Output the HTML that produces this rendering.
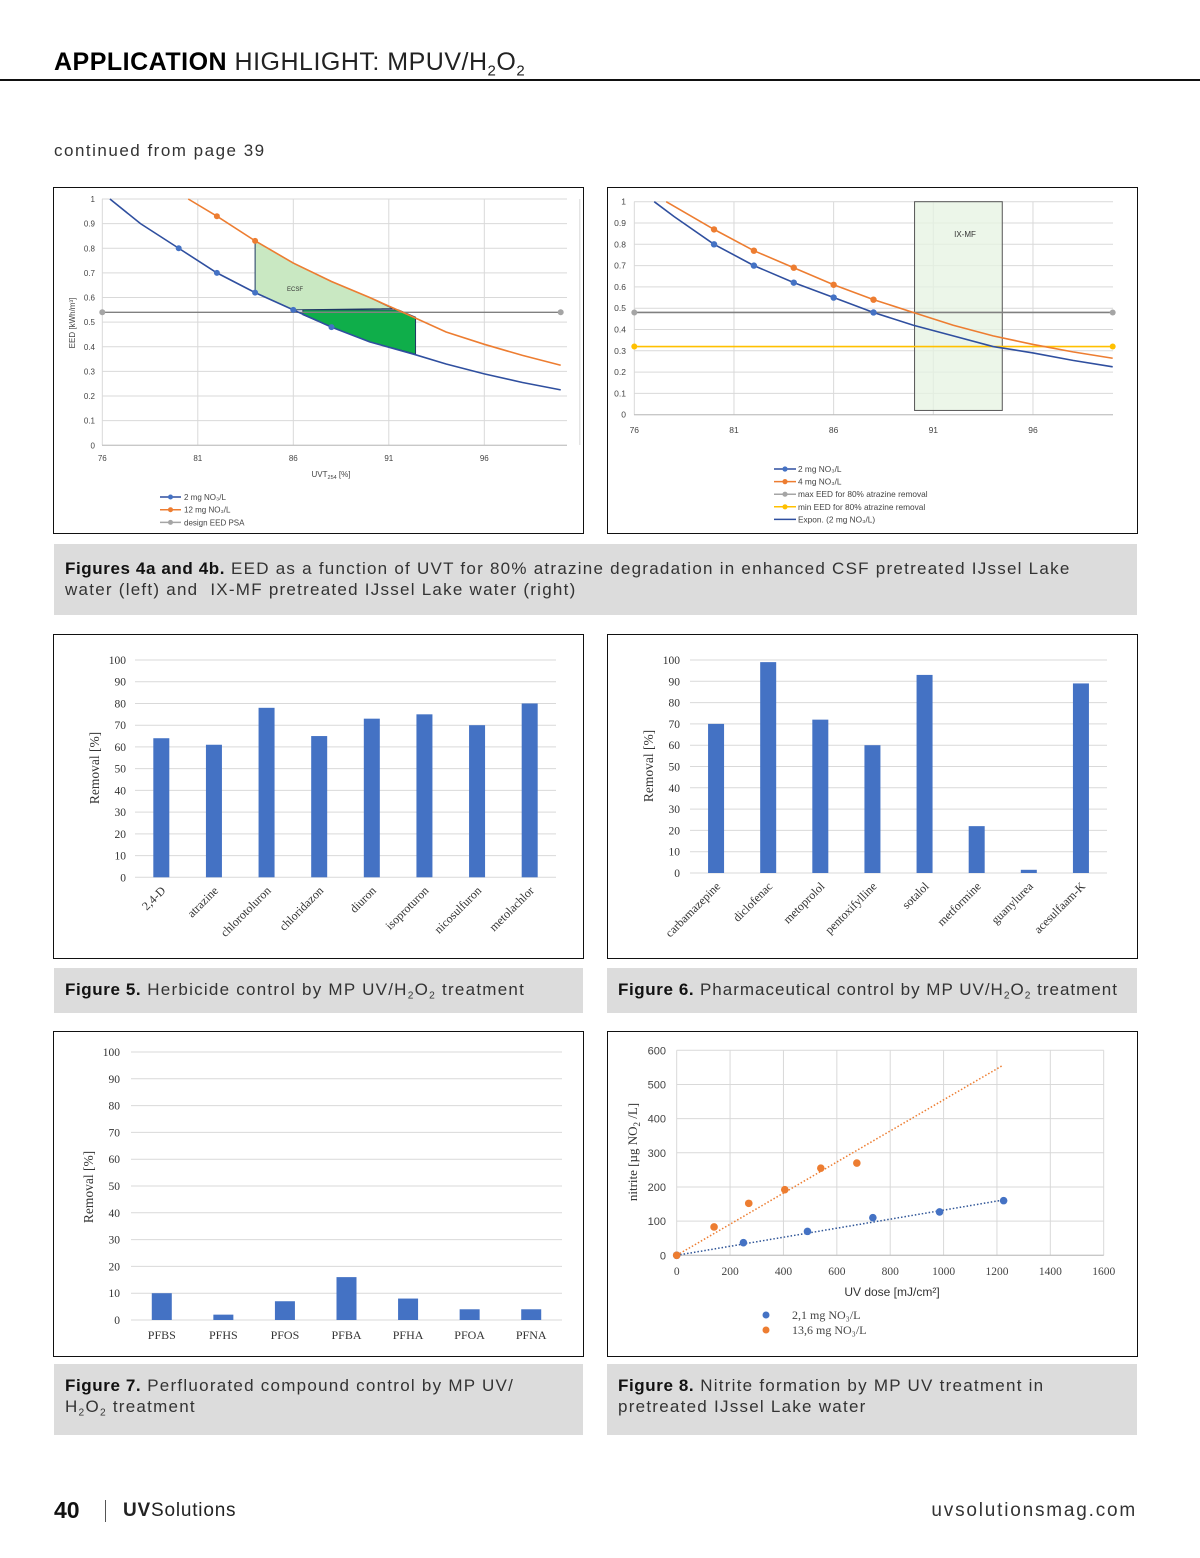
<!DOCTYPE html>
<html><head><meta charset="utf-8">
<style>
body{margin:0;background:#fff;}
#page{position:relative;width:1200px;height:1558px;overflow:hidden;background:#fff;font-family:"Liberation Sans",sans-serif;color:#222;}
.abs{position:absolute;}
.cap{position:absolute;background:#dcdcdc;font-size:17px;line-height:21px;color:#333;padding:0 11px;box-sizing:border-box;letter-spacing:1.25px;}
.cap b{color:#111;letter-spacing:0.6px;}
.box{position:absolute;border:1.5px solid #111;box-sizing:border-box;}
sub{font-size:0.6em;vertical-align:-0.35em;line-height:0;}
</style></head>
<body><div id="page">
<div class="abs" style="left:54px;top:48px;font-size:25px;letter-spacing:0.5px;white-space:nowrap;"><b style="font-weight:900;color:#000;">APPLICATION</b> <span style="font-weight:300;color:#222;">HIGHLIGHT: MPUV/H<sub>2</sub>O<sub>2</sub></span></div>
<div class="abs" style="left:0;top:79px;width:1200px;height:2px;background:#111;"></div>
<div class="abs" style="left:54px;top:141px;font-size:17px;color:#333;letter-spacing:1.5px;">continued from page 39</div>

<div class="box" style="left:53px;top:187px;width:531px;height:347px;"></div>
<div class="box" style="left:607px;top:187px;width:531px;height:347px;"></div>
<div class="box" style="left:53px;top:634px;width:531px;height:325px;border-width:1px;"></div>
<div class="box" style="left:607px;top:634px;width:531px;height:325px;border-width:1px;"></div>
<div class="box" style="left:53px;top:1031px;width:531px;height:326px;border-width:1px;"></div>
<div class="box" style="left:607px;top:1031px;width:531px;height:326px;"></div>

<div class="cap" style="left:54px;top:544px;width:1083px;height:71px;padding-top:14px;"><b>Figures 4a and 4b.</b> EED as a function of UVT for 80% atrazine degradation in enhanced CSF pretreated IJssel Lake<br>water (left) and&nbsp; IX-MF pretreated IJssel Lake water (right)</div>
<div class="cap" style="left:54px;top:968px;width:529px;height:45px;padding-top:11px;"><b>Figure 5.</b> Herbicide control by MP UV/H<sub>2</sub>O<sub>2</sub> treatment</div>
<div class="cap" style="left:607px;top:968px;width:530px;height:45px;padding-top:11px;letter-spacing:1px;"><b>Figure 6.</b> Pharmaceutical control by MP UV/H<sub>2</sub>O<sub>2</sub> treatment</div>
<div class="cap" style="left:54px;top:1364px;width:529px;height:71px;padding-top:11px;"><b>Figure 7.</b> Perfluorated compound control by MP UV/<br>H<sub>2</sub>O<sub>2</sub> treatment</div>
<div class="cap" style="left:607px;top:1364px;width:530px;height:71px;padding-top:11px;"><b>Figure 8.</b> Nitrite formation by MP UV treatment in<br>pretreated IJssel Lake water</div>

<div class="abs" style="left:54px;top:1497px;font-size:23px;font-weight:bold;color:#111;">40</div>
<div class="abs" style="left:105px;top:1500px;width:1px;height:22px;background:#555;"></div>
<div class="abs" style="left:123px;top:1500px;font-size:19px;color:#222;letter-spacing:0.8px;"><b>UV</b>Solutions</div>
<div class="abs" style="right:63px;top:1500px;font-size:19px;color:#333;letter-spacing:1.8px;">uvsolutionsmag.com</div>

<svg id="charts" width="1200" height="1558" style="position:absolute;left:0;top:0;"></svg>
</div>
<script>
// ---- Figure 4a data ----
const f4aBlueX=[76.4,78,80,82,84,86,88,90,92.3,94,96,98,100];
const f4aBlueY=[1.0,0.9,0.8,0.7,0.62,0.55,0.48,0.42,0.37,0.33,0.29,0.255,0.225];
const f4aBlueMarkX=[80,82,84,86,88];
const f4aBlueMarkY=[0.8,0.7,0.62,0.55,0.48];
const f4aOrX=[80.5,82,84,86,88,90,91.3,92.3,94,96,98,100];
const f4aOrY=[1.0,0.93,0.83,0.74,0.665,0.6,0.555,0.52,0.46,0.41,0.365,0.325];
const f4aOrMarkX=[82,84];
const f4aOrMarkY=[0.93,0.83];
const f4aDesign=0.54;
const f4aLightX=[84,84,86,91.2,90,88,86,84];
const f4aLightY=[0.83,0.62,0.55,0.555,0.6,0.665,0.74,0.83];
const f4aDarkX=[86.5,91.5,92.4,92.4,90,88,86.5];
const f4aDarkY=[0.55,0.55,0.52,0.37,0.42,0.48,0.53];
// ---- Figure 4b data ----
const f4bBlueX=[77,78,80,82,84,86,88,90,92,94,96,98,100];
const f4bBlueY=[1.0,0.93,0.8,0.7,0.62,0.55,0.48,0.42,0.37,0.32,0.29,0.255,0.225];
const f4bBlueMarkX=[80,82,84,86,88];
const f4bBlueMarkY=[0.8,0.7,0.62,0.55,0.48];
const f4bOrX=[77.6,80,82,84,86,88,90,92,94,96,98,100];
const f4bOrY=[1.0,0.87,0.77,0.69,0.61,0.54,0.48,0.42,0.37,0.33,0.295,0.265];
const f4bOrMarkX=[80,82,84,86,88];
const f4bOrMarkY=[0.87,0.77,0.69,0.61,0.54];
const f4bMax=0.48;
const f4bMin=0.32;
const f4bBox=[90.06,94.46,0.02,1.0];
const f4Ticks=[76,81,86,91,96];
const f4YTicks=[0,0.1,0.2,0.3,0.4,0.5,0.6,0.7,0.8,0.9,1];
// ---- Figure 5 ----
const f5Cats=["2,4-D","atrazine","chlorotoluron","chloridazon","diuron","isoproturon","nicosulfuron","metolachlor"];
const f5Vals=[64,61,78,65,73,75,70,80];
// ---- Figure 6 ----
const f6Cats=["carbamazepine","diclofenac","metoprolol","pentoxifylline","sotalol","metformine","guanylurea","acesulfaam-K"];
const f6Vals=[70,99,72,60,93,22,1.5,89];
// ---- Figure 7 ----
const f7Cats=["PFBS","PFHS","PFOS","PFBA","PFHA","PFOA","PFNA"];
const f7Vals=[10,2,7,16,8,4,4];
const barTicks=[0,10,20,30,40,50,60,70,80,90,100];
// ---- Figure 8 ----
const f8BlueX=[0,250,490,735,985,1225];
const f8BlueY=[0,37,70,110,127,160];
const f8OrX=[0,140,270,405,540,675];
const f8OrY=[0,83,152,192,255,270];
const f8BlueTrend=[0,0,1225,162];
const f8OrTrend=[0,0,1220,555];
const f8XTicks=[0,200,400,600,800,1000,1200,1400,1600];
const f8YTicks=[0,100,200,300,400,500,600];

const NS="http://www.w3.org/2000/svg";
const svg=document.getElementById('charts');
function mk(tag,attrs,parent){const e=document.createElementNS(NS,tag);for(const k in attrs)e.setAttribute(k,attrs[k]);(parent||svg).appendChild(e);return e;}
function txt(s,attrs,parent){const e=mk('text',attrs,parent);e.textContent=s;return e;}
function lin(d0,d1,r0,r1){return v=>r0+(v-d0)/(d1-d0)*(r1-r0);}
const BLUE="#4472c4",ORANGE="#ed7d31",GREY="#a5a5a5",YEL="#ffc000",DBLUE="#2f4f9f";

// ===== Figure 4a =====
(function(){
const g=mk('g',{});


const x=lin(76,100,102.3,560.7), y=lin(0,1,445.3,199);
f4YTicks.forEach(t=>{const l=mk('line',{x1:102,x2:567,y1:y(t),y2:y(t),stroke:'#d9d9d9','stroke-width':1},g);

const tt=txt(String(t),{x:95,y:y(t)+3,'font-size':8,'text-anchor':'end',fill:'#444'},g);
});
f4Ticks.concat([101]).forEach(t=>{const l=mk('line',{x1:x(t),x2:x(t),y1:199,y2:445,stroke:'#d9d9d9','stroke-width':1},g);
});
f4Ticks.forEach(t=>{const tt=txt(String(t),{x:x(t),y:461,'font-size':8,'text-anchor':'middle',fill:'#444'},g);
});
mk('line',{x1:102,x2:567,y1:445.3,y2:445.3,stroke:'#bbb'},g);
const lp=mk('polygon',{points:f4aLightX.map((v,i)=>x(v)+','+y(f4aLightY[i])).join(' '),fill:'#c9e8c2',stroke:'#1f3864','stroke-width':1},g);

const dp=mk('polygon',{points:f4aDarkX.map((v,i)=>x(v)+','+y(f4aDarkY[i])).join(' '),fill:'#0fae4a',stroke:'#1f3864','stroke-width':1},g);

const el=txt('ECSF',{x:295,y:291,'font-size':6,'text-anchor':'middle',fill:'#333'},g);

const dl=mk('line',{x1:x(76),x2:x(100),y1:y(f4aDesign),y2:y(f4aDesign),stroke:'#808080','stroke-width':1.3},g);

[76,100].forEach(v=>{const c=mk('circle',{cx:x(v),cy:y(f4aDesign),r:3,fill:GREY},g);});
const ol=mk('polyline',{points:f4aOrX.map((v,i)=>x(v)+','+y(f4aOrY[i])).join(' '),fill:'none',stroke:ORANGE,'stroke-width':1.6},g);

const bl=mk('polyline',{points:f4aBlueX.map((v,i)=>x(v)+','+y(f4aBlueY[i])).join(' '),fill:'none',stroke:DBLUE,'stroke-width':1.6},g);

f4aOrMarkX.forEach((v,i)=>{const c=mk('circle',{cx:x(v),cy:y(f4aOrMarkY[i]),r:3,fill:ORANGE},g);});
f4aBlueMarkX.forEach((v,i)=>{const c=mk('circle',{cx:x(v),cy:y(f4aBlueMarkY[i]),r:3,fill:BLUE},g);});
const yt=txt('EED [kWh/m³]',{x:0,y:0,'font-size':8,'text-anchor':'middle',fill:'#444',transform:'translate(75,323) rotate(-90)'},g);

const xt=txt('',{x:331,y:477,'font-size':8,'text-anchor':'middle',fill:'#444'},g);
xt.innerHTML='UVT<tspan font-size="5.5" dy="2">254</tspan><tspan dy="-2"> [%]</tspan>';

const leg=[['2 mg NO₃/L',DBLUE,BLUE],['12 mg NO₃/L',ORANGE,ORANGE],['design EED PSA',GREY,GREY]];
leg.forEach((L,i)=>{const yy=497+i*12.7;const lg=mk('g',{},g);

mk('line',{x1:160,x2:181,y1:yy,y2:yy,stroke:L[1],'stroke-width':1.5},lg);
mk('circle',{cx:170.5,cy:yy,r:2.5,fill:L[2]},lg);
txt(L[0],{x:184,y:yy+3,'font-size':8,fill:'#444'},lg);});
})();

// ===== Figure 4b =====
(function(){
const g=mk('g',{});


const x=lin(76,100,634.3,1112.7), y=lin(0,1,414.7,201.7);
f4YTicks.forEach(t=>{const l=mk('line',{x1:634,x2:1113,y1:y(t),y2:y(t),stroke:'#d9d9d9','stroke-width':1},g);

const tt=txt(String(t),{x:626,y:y(t)+3,'font-size':8.5,'text-anchor':'end',fill:'#444'},g);
});
f4Ticks.forEach(t=>{const l=mk('line',{x1:x(t),x2:x(t),y1:201.7,y2:414.7,stroke:'#d9d9d9','stroke-width':1},g);

const tt=txt(String(t),{x:x(t),y:433,'font-size':8.5,'text-anchor':'middle',fill:'#444'},g);
});
mk('line',{x1:634,x2:1113,y1:414.7,y2:414.7,stroke:'#bbb'},g);
const bx=mk('rect',{x:x(f4bBox[0]),y:y(f4bBox[3]),width:x(f4bBox[1])-x(f4bBox[0]),height:y(f4bBox[2])-y(f4bBox[3]),fill:'#e5f3e1','fill-opacity':0.75,stroke:'#555','stroke-width':1},g);

const bl2=txt('IX-MF',{x:965,y:237,'font-size':8,'text-anchor':'middle',fill:'#333'},g);

[[f4bMax,'#808080',GREY,'max-eed'],[f4bMin,YEL,YEL,'min-eed']].forEach(H=>{
const l=mk('line',{x1:x(76),x2:x(100),y1:y(H[0]),y2:y(H[0]),stroke:H[1],'stroke-width':1.6},g);

[76,100].forEach(v=>{const c=mk('circle',{cx:x(v),cy:y(H[0]),r:3,fill:H[2]},g);});});
const ol=mk('polyline',{points:f4bOrX.map((v,i)=>x(v)+','+y(f4bOrY[i])).join(' '),fill:'none',stroke:ORANGE,'stroke-width':1.6},g);

const bl=mk('polyline',{points:f4bBlueX.map((v,i)=>x(v)+','+y(f4bBlueY[i])).join(' '),fill:'none',stroke:DBLUE,'stroke-width':1.6},g);

f4bOrMarkX.forEach((v,i)=>{const c=mk('circle',{cx:x(v),cy:y(f4bOrMarkY[i]),r:3.2,fill:ORANGE},g);});
f4bBlueMarkX.forEach((v,i)=>{const c=mk('circle',{cx:x(v),cy:y(f4bBlueMarkY[i]),r:3.2,fill:BLUE},g);});
const leg=[['2 mg NO₃/L',DBLUE,BLUE],['4 mg NO₃/L',ORANGE,ORANGE],['max EED for 80% atrazine removal',GREY,GREY],['min EED for 80% atrazine removal',YEL,YEL],['Expon. (2 mg NO₃/L)',DBLUE,null]];
leg.forEach((L,i)=>{const yy=469+i*12.6;const lg=mk('g',{},g);

mk('line',{x1:774,x2:796,y1:yy,y2:yy,stroke:L[1],'stroke-width':1.5},lg);
if(L[2])mk('circle',{cx:785,cy:yy,r:2.6,fill:L[2]},lg);
txt(L[0],{x:798,y:yy+3,'font-size':8.3,fill:'#444'},lg);});
})();

// ===== Bar charts =====
function barChart(name,cats,vals,o){
const g=mk('g',{});


const y=lin(0,100,o.y0,o.y100);
const band=(o.x1-o.x0)/cats.length;
barTicks.forEach(t=>{const l=mk('line',{x1:o.x0,x2:o.x1,y1:y(t),y2:y(t),stroke:'#d9d9d9','stroke-width':1},g);

const tt=txt(String(t),{x:o.tx,y:y(t)+4,'font-size':11.5,'text-anchor':'end',fill:'#333','font-family':'Liberation Serif, serif'},g);
});
cats.forEach((c,i)=>{const cx=o.x0+band*(i+0.5);
const r=mk('rect',{x:cx-o.bw/2,y:y(vals[i]),width:o.bw,height:y(0)-y(vals[i]),fill:BLUE},g);

let t;
if(o.rot){t=txt(c,{x:0,y:0,'font-size':12,'text-anchor':'end',fill:'#333','font-family':'Liberation Serif, serif',transform:`translate(${cx+5},${o.y0+14}) rotate(-45)`},g);}
else{t=txt(c,{x:cx,y:o.y0+19,'font-size':12,'text-anchor':'middle',fill:'#333','font-family':'Liberation Serif, serif'},g);}
});
const yt=txt('Removal [%]',{x:0,y:0,'font-size':13.5,'text-anchor':'middle',fill:'#333','font-family':'Liberation Serif, serif',transform:`translate(${o.lx},${o.ly}) rotate(-90)`},g);

}
barChart('figure-5-chart',f5Cats,f5Vals,{x0:135,x1:556,y0:877.3,y100:660,bw:16,tx:126,lx:99,ly:768,rot:true});
barChart('figure-6-chart',f6Cats,f6Vals,{x0:690,x1:1107,y0:873,y100:660,bw:16,tx:680,lx:653,ly:766,rot:true});
barChart('figure-7-chart',f7Cats,f7Vals,{x0:131,x1:562,y0:1320,y100:1052,bw:20,tx:120,lx:93,ly:1187,rot:false});

// ===== Figure 8 =====
(function(){
const g=mk('g',{});


const x=lin(0,1600,676.7,1103.7), y=lin(0,600,1255.3,1050.3);
f8YTicks.forEach(t=>{const l=mk('line',{x1:676.7,x2:1103.7,y1:y(t),y2:y(t),stroke:'#d9d9d9','stroke-width':1},g);

const tt=txt(String(t),{x:666,y:y(t)+4,'font-size':11,'text-anchor':'end',fill:'#444'},g);
});
f8XTicks.forEach(t=>{const l=mk('line',{x1:x(t),x2:x(t),y1:1050.3,y2:1255.3,stroke:'#d9d9d9','stroke-width':1},g);

const tt=txt(String(t),{x:x(t),y:1275,'font-size':11.5,'text-anchor':'middle',fill:'#444','font-family':'Liberation Serif, serif'},g);
});
mk('line',{x1:676.7,x2:1103.7,y1:1255.3,y2:1255.3,stroke:'#bbb'},g);
const to=mk('line',{x1:x(f8OrTrend[0]),y1:y(f8OrTrend[1]),x2:x(f8OrTrend[2]),y2:y(f8OrTrend[3]),stroke:ORANGE,'stroke-width':1.5,'stroke-dasharray':'1.5 2'},g);

const tb=mk('line',{x1:x(f8BlueTrend[0]),y1:y(f8BlueTrend[1]),x2:x(f8BlueTrend[2]),y2:y(f8BlueTrend[3]),stroke:'#2f5597','stroke-width':1.5,'stroke-dasharray':'1.5 2'},g);

f8BlueX.forEach((v,i)=>{const c=mk('circle',{cx:x(v),cy:y(f8BlueY[i]),r:3.8,fill:BLUE},g);});
f8OrX.forEach((v,i)=>{const c=mk('circle',{cx:x(v),cy:y(f8OrY[i]),r:3.8,fill:ORANGE},g);});
const xt=txt('UV dose [mJ/cm²]',{x:892,y:1296,'font-size':12,'text-anchor':'middle',fill:'#333'},g);

const yt=txt('',{x:0,y:0,'font-size':13,'text-anchor':'middle',fill:'#333','font-family':'Liberation Serif, serif',transform:'translate(637,1152) rotate(-90)'},g);
yt.innerHTML='nitrite [µg NO<tspan font-size="9" dy="3">2</tspan><tspan dy="-3"> /L]</tspan>';

[['2,1 mg NO₃/L',BLUE,1315],['13,6 mg NO₃/L',ORANGE,1330]].forEach(L=>{const lg=mk('g',{},g);

mk('circle',{cx:766,cy:L[2],r:3.5,fill:L[1]},lg);
txt(L[0],{x:792,y:L[2]+4,'font-size':12,fill:'#444','font-family':'Liberation Serif, serif'},lg);});
})();
</script>
</body></html>
